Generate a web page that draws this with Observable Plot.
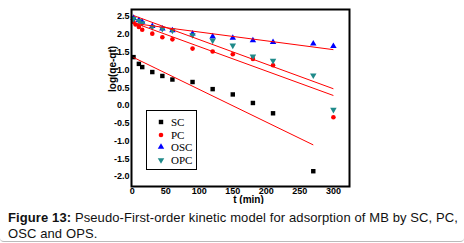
<!DOCTYPE html>
<html>
<head>
<meta charset="utf-8">
<script src="https://cdn.jsdelivr.net/npm/d3@7"></script>
<script src="https://cdn.jsdelivr.net/npm/@observablehq/plot@0.6"></script>
<style>
  html, body { margin: 0; padding: 0; background: #fff; }
  #wrap { position: relative; width: 464px; height: 243px; overflow: hidden; }
  #legend { position: absolute; left: 146px; top: 110px; width: 51px; height: 60px;
            border: 1px solid #000; background: #fff; box-sizing: border-box;
            font-family: "Liberation Serif", "Times New Roman", serif; font-size: 11px; }
  .row { position: absolute; left: 0; height: 12px; line-height: 12px; }
  .row svg { position: absolute; left: 8px; top: 0; }
  .row span { position: absolute; left: 24px; top: 0; }
  #caption { position: absolute; left: 0; top: 204px; width: 456px; height: 31.5px;
             padding: 5.5px 0 0 8px; box-sizing: content-box; background: #fff;
             font-family: "Liberation Sans", Arial, sans-serif; font-size: 13px;
             line-height: 16px; color: #111; white-space: nowrap;
             border-bottom: 1px solid #bbb; border-radius: 0 0 4px 4px; }
  #caption b { font-weight: bold; }
</style>
</head>
<body>
<div id="wrap">
  <div id="chart"></div>
  <div id="legend"></div>
  <div id="caption"><span id="cap1"><b>Figure 13:</b> Pseudo-First-order kinetic model for adsorption of MB by SC, PC,</span><br><span id="cap2">OSC and OPS.</span></div>
</div>
<script>
// ---- data ----
const times = [2, 5, 10, 15, 30, 45, 60, 90, 120, 150, 180, 210, 270, 300];
const seriesNames = ["SC", "PC", "OSC", "OPC"];
const SC  = [1.36, null, 1.17, 1.08, 0.94, 0.83, 0.73, 0.66, 0.46, 0.31, 0.07, -0.22, -1.85, null];
const PC  = [2.35, 2.28, 2.21, 2.13, 2.02, 1.92, 1.86, 1.60, 1.52, 1.44, 1.31, 1.13, null, -0.33];
const OSC = [2.46, null, 2.40, 2.35, 2.23, 2.16, 2.11, 2.02, 1.94, 1.90, 1.83, 1.78, 1.74, 1.67];
const OPC = [2.44, null, 2.38, 2.32, 2.21, 2.16, 2.11, 1.98, 1.83, 1.69, 1.38, 1.26, 0.85, -0.12];
// linear fits (start/end of each red line)
const fitT0 = [2, 2, 2, 2];
const fitT1 = [270, 300, 300, 300];
const fitV0 = [1.35, 2.33, 2.31, 2.53];
const fitV1 = [-1.11, 0.28, 1.57, 0.47];
const xTicks = [0, 50, 100, 150, 200, 250, 300];
const yTicks = [-2, -1.5, -1, -0.5, 0, 0.5, 1, 1.5, 2, 2.5];
const xLabel = "t (min)";
const yLabel = "log(qe-qt)";

// ---- styles ----
const colors = {SC: "#000000", PC: "#ff0000", OSC: "#0000ff", OPC: "#1f8a8a"};
const triangleDown = {
  draw(context, size) {
    const s3 = Math.sqrt(3);
    const y = -Math.sqrt(size / (s3 * 3));
    context.moveTo(0, -y * 2);
    context.lineTo(-s3 * y, y);
    context.lineTo(s3 * y, y);
    context.closePath();
  }
};
const symbols = {SC: "square", PC: "circle", OSC: "triangle", OPC: triangleDown};
const radii = {SC: 2.5, PC: 2.3, OSC: 2.4, OPC: 2.4};

const values = {SC, PC, OSC, OPC};
const points = seriesNames.map(name =>
  times.map((t, i) => ({t, v: values[name][i], name})).filter(d => d.v != null));
const fits = seriesNames.map((name, i) => ({name, t0: fitT0[i], t1: fitT1[i], v0: fitV0[i], v1: fitV1[i]}));

const chart = Plot.plot({
  width: 464,
  height: 204,
  marginLeft: 131,
  marginRight: 115,
  marginTop: 9,
  marginBottom: 18,
  style: {fontFamily: "'Liberation Sans', Arial, sans-serif", fontSize: "9px", fontWeight: "bold", color: "#000", background: "transparent"},
  x: {domain: [-1, 324], ticks: xTicks, tickSize: 0, tickPadding: 1, label: null, tickFormat: d => String(d)},
  y: {domain: [-2.28, 2.70], ticks: yTicks, tickSize: 0, tickPadding: 2, label: null, tickFormat: d => d.toFixed(1)},
  marks: [
    ...points.map((pts, i) => Plot.dot(pts, {
      x: "t", y: "v",
      symbol: symbols[seriesNames[i]],
      r: radii[seriesNames[i]],
      fill: colors[seriesNames[i]],
      stroke: "none"
    })),
    Plot.link(fits, {x1: "t0", y1: "v0", x2: "t1", y2: "v1", stroke: "#ff0000", strokeWidth: 1}),
    Plot.frame({stroke: "#000", strokeWidth: 2}),
    Plot.text([xLabel], {frameAnchor: "bottom", dx: 8, dy: 13, text: d => d, fontSize: 10, fontWeight: "bold", lineAnchor: "middle"}),
    Plot.text([yLabel], {frameAnchor: "left", dx: -19, dy: -6, text: d => d, fontSize: 10, fontWeight: "bold", rotate: -90, lineAnchor: "middle"})
  ]
});
document.getElementById("chart").appendChild(chart);

// ---- legend ----
const legend = document.getElementById("legend");
const rowTops = [5, 17.5, 30, 43];
seriesNames.forEach((name, i) => {
  const row = document.createElement("div");
  row.className = "row";
  row.style.top = rowTops[i] + "px";
  const sym = symbols[name];
  const type = typeof sym === "string"
    ? {square: d3.symbolSquare, circle: d3.symbolCircle, triangle: d3.symbolTriangle}[sym]
    : sym;
  const size = radii[name] * radii[name] * Math.PI;
  const path = d3.symbol(type, size)();
  row.innerHTML = `<svg width="12" height="12"><path transform="translate(6,6)" d="${path}" fill="${colors[name]}"/></svg><span>${name}</span>`;
  legend.appendChild(row);
});

// ---- caption: stretch the first line to the reference's width ----
const cap = document.getElementById("caption");
const cap1 = document.getElementById("cap1");
const w = cap1.getBoundingClientRect().width;
const n = cap1.textContent.length;
const ls = Math.max(0, (450 - w) / n);
cap.style.letterSpacing = ls + "px";
</script>
</body>
</html>
